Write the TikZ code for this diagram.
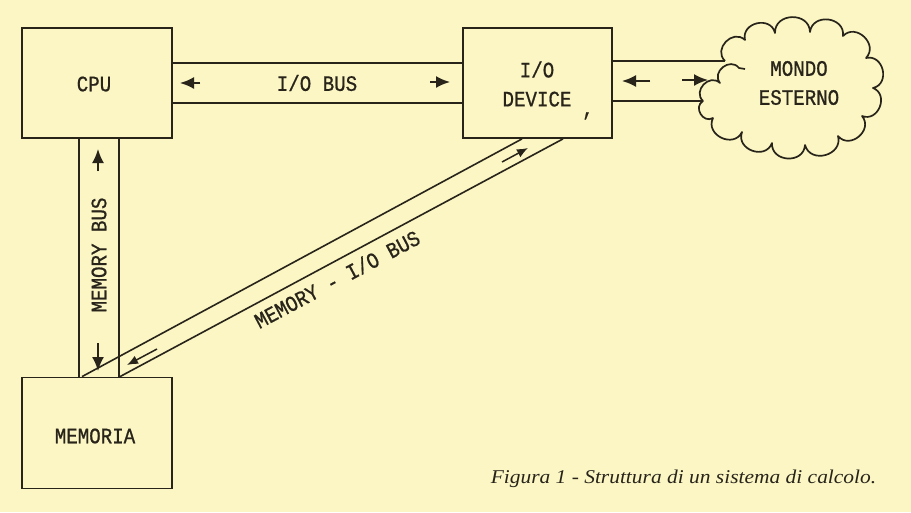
\documentclass[tikz,border=0pt]{standalone}
\usepackage{fontspec}
\setmainfont{Liberation Serif}
\newfontfamily\monofam[FakeStretch=0.87,FakeBold=0.8]{Liberation Mono}
\newfontfamily\capfam[FakeStretch=1.1]{Liberation Serif}
\usetikzlibrary{arrows.meta,calc}
\definecolor{paper}{RGB}{251,246,196}
\definecolor{ink}{RGB}{40,36,26}
\begin{document}
\begin{tikzpicture}[x=1pt,y=-1pt,
  line width=1.5pt, draw=ink,
  every node/.style={text=ink},
  box/.style={draw=ink, line width=1.8pt, minimum width=150pt, minimum height=110pt, inner sep=0pt},
  lbl/.style={font=\monofam\fontsize{22}{29}\selectfont, align=center, inner sep=0pt},
  busline/.style={draw=ink, line width=1.6pt},
  sarrow/.style={draw=ink, fill=ink, line width=2pt, -{Latex[length=14pt,width=12pt]}},
  tarrow/.style={draw=ink, fill=ink, line width=1.5pt, -{Latex[length=11pt,width=9pt]}},
  bumps/.style={bend left=90, looseness=1.5}
]
\useasboundingbox (0,0) rectangle (911,512);
\fill[paper] (0,0) rectangle (911,512);

% boxes
\node[box] (cpu) at (97,83) {};
\node[lbl] (cputxt) at (94,84) {CPU};
\node[box, minimum width=149pt] (io) at (537.5,83) {};
\node[lbl] (iotxt) at (537,84) {I/O\\DEVICE};
\node[lbl, anchor=center] (comma) at (588,116) {,};
\node[box, minimum width=150pt, minimum height=111pt] (mem) at (97,433) {};
\node[lbl] (memtxt) at (95,436) {MEMORIA};

% cloud
\coordinate (c1) at (725,61);
\coordinate (c2) at (703,101);
\draw[line width=1.7pt, line join=round, fill=none]
  (c1) to[bumps] (745,40) to[bumps] (775,33) to[bumps] (810,32) to[bumps] (843,36)
  to[bumps] (866,58) to[bumps] (873,88) to[bumps] (862,116) to[bumps] (838,136)
  to[bumps] (805,145) to[bumps] (772,143) to[bumps] (742,132) to[bumps] (713,118)
  to[bumps] (c2) to[bumps] (720,83) to[bumps] (739,68) -- (745,69);
\node[lbl] (world) at (799,83) {MONDO\\ESTERNO};

% I/O bus
\draw[busline] ([yshift=20pt]cpu.east) -- ([yshift=20pt]cpu.east -| io.west);
\draw[busline] ([yshift=-20pt]cpu.east) -- ([yshift=-20pt]cpu.east -| io.west);
\node[lbl] (iobus) at (317,83) {I/O BUS};
\draw[sarrow] (200,83) -- (180,83);
\draw[sarrow] (430,82) -- (450,82);

% bus to outside world
\draw[busline] (io.east |- c1) -- (c1);
\draw[busline] (io.east |- c2) -- (c2);
\draw[sarrow] (650,81) -- (622,81);
\draw[sarrow] (682,80) -- (708,80);

% memory bus
\draw[busline] ([xshift=-18pt]cpu.south) -- ([xshift=-18pt]cpu.south |- mem.north);
\draw[busline] ([xshift=22pt]cpu.south) -- ([xshift=22pt]cpu.south |- mem.north);
\node[lbl, rotate=90] (membus) at (99,255) {MEMORY BUS};
\draw[sarrow] (98,171) -- (98,149);
\draw[sarrow] (98,343) -- (98,371);

% memory - I/O bus
\draw[busline] ([xshift=-15pt]mem.north) -- ([xshift=-15.5pt]io.south);
\draw[busline] ([xshift=23pt]mem.north) -- ([xshift=25.5pt]io.south);
\node[lbl, rotate=28] (miobus) at (337,279) {MEMORY - I/O BUS};
\draw[tarrow] (502,162) -- (528,148);
\draw[tarrow] (157,349) -- (127,365);

% caption
\node[anchor=base west, inner sep=0pt, font=\capfam\itshape\fontsize{19.5}{24}\selectfont] (caption) at (490,483) {Figura 1 - Struttura di un sistema di calcolo.};
\end{tikzpicture}
\end{document}
